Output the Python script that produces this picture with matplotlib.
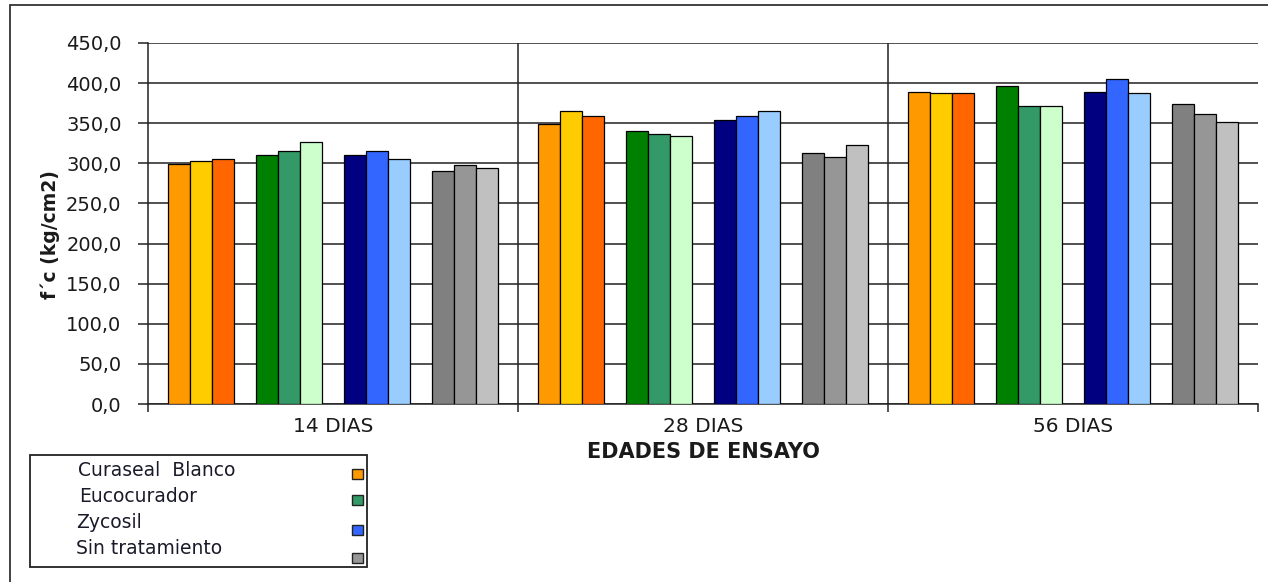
import numpy as np
import matplotlib
matplotlib.use("Agg")
import matplotlib.pyplot as plt
from matplotlib.patches import Rectangle

# DATA
edades = ["14 DIAS", "28 DIAS", "56 DIAS"]
tratamientos = ["Curaseal  Blanco", "Eucocurador", "Zycosil", "Sin tratamiento"]

# f'c per sample (3 samples per treatment), one list per age
fc_14 = [299, 303, 306, 311, 315, 327, 310, 315, 306, 290, 298, 294]
fc_28 = [349, 365, 359, 340, 336, 334, 354, 359, 365, 313, 308, 323]
fc_56 = [389, 388, 388, 397, 372, 372, 389, 405, 388, 374, 361, 352]

bar_colors = ["#FF9900", "#FFCC00", "#FF6600",
              "#008000", "#339966", "#CCFFCC",
              "#000080", "#3366FF", "#99CCFF",
              "#808080", "#969696", "#C0C0C0"]
legend_colors = ["#FF9900", "#339966", "#3366FF", "#969696"]

y_ticks = np.arange(0, 451, 50)

W, H = 1268, 582
fig = plt.figure(figsize=(W / 100, H / 100), dpi=100)
ax = fig.add_axes([148 / W, 1 - 404 / H, (1258 - 148) / W, (404 - 43) / H])

# bar layout: 4 groups of 3 bars with one bar-width gap between groups
bw = 22 / 370
margin = (1 - 15 * bw) / 2
for i, vals in enumerate([fc_14, fc_28, fc_56]):
    for j, v in enumerate(vals):
        g, k = divmod(j, 3)
        x = i + margin + (g * 4 + k) * bw
        ax.bar(x, v, width=bw, align="edge", color=bar_colors[j],
               edgecolor="black", linewidth=0.9, zorder=3)

ax.set_xlim(0, 3)
ax.set_ylim(0, 450)
ax.set_yticks(y_ticks)
ax.set_yticklabels([f"{t:.1f}".replace(".", ",") for t in y_ticks],
                   fontsize=14, color="#1a1a1a")
ax.yaxis.grid(True, color="#222222", linewidth=1.1, zorder=0)
for sep in [1, 2]:
    ax.axvline(sep, color="#222222", linewidth=1.1, zorder=1)

# category ticks and labels
ax.set_xticks([0, 1, 2, 3])
ax.set_xticklabels([])
ax.set_xticks([0.5, 1.5, 2.5], minor=True)
ax.set_xticklabels(edades, minor=True, fontsize=14.5, color="#1a1a1a")
ax.tick_params(axis="x", which="minor", length=0, pad=9)
ax.tick_params(axis="x", which="major", length=6, width=1.1, color="#222222")
ax.tick_params(axis="y", length=7, width=1.1, color="#222222", pad=12)

ax.set_xlabel("EDADES DE ENSAYO", fontsize=15, fontweight="bold",
              color="#1a1a1a", labelpad=5)
ax.set_ylabel("f´c (kg/cm2)", fontsize=13.5, fontweight="bold",
              color="#1a1a1a")
ax.yaxis.set_label_coords((60 - 148) / (1258 - 148), 0.47)

for side in ["top", "right"]:
    ax.spines[side].set_visible(False)
for side in ["left", "bottom"]:
    ax.spines[side].set_color("#222222")
    ax.spines[side].set_linewidth(1.1)

# outer frame
fig.add_artist(Rectangle((10 / W, -0.05), 1.1, 1.05 - 5 / H,
                         transform=fig.transFigure, fill=False,
                         edgecolor="#333333", linewidth=1.3))

# legend box, drawn by hand (labels left, markers on the far right)
fig.add_artist(Rectangle((30 / W, 1 - 567 / H), 337 / W, 112 / H,
                         transform=fig.transFigure, fill=False,
                         edgecolor="#222222", linewidth=1.3))
text_pos = [(78, 471), (79, 497), (76, 523), (76, 549)]
mark_y = [474, 500, 529.5, 558]
for name, col, (tx, ty), my in zip(tratamientos, legend_colors, text_pos, mark_y):
    fig.text(tx / W, 1 - ty / H, name, fontsize=13.5, family="DejaVu Sans",
             color="#1a1a2a", va="center", ha="left")
    fig.add_artist(Rectangle((352 / W, 1 - (my + 5) / H), 11 / W, 10 / H,
                             transform=fig.transFigure, facecolor=col,
                             edgecolor="#222222", linewidth=1.0))

fig.savefig("out.png", dpi=100)
